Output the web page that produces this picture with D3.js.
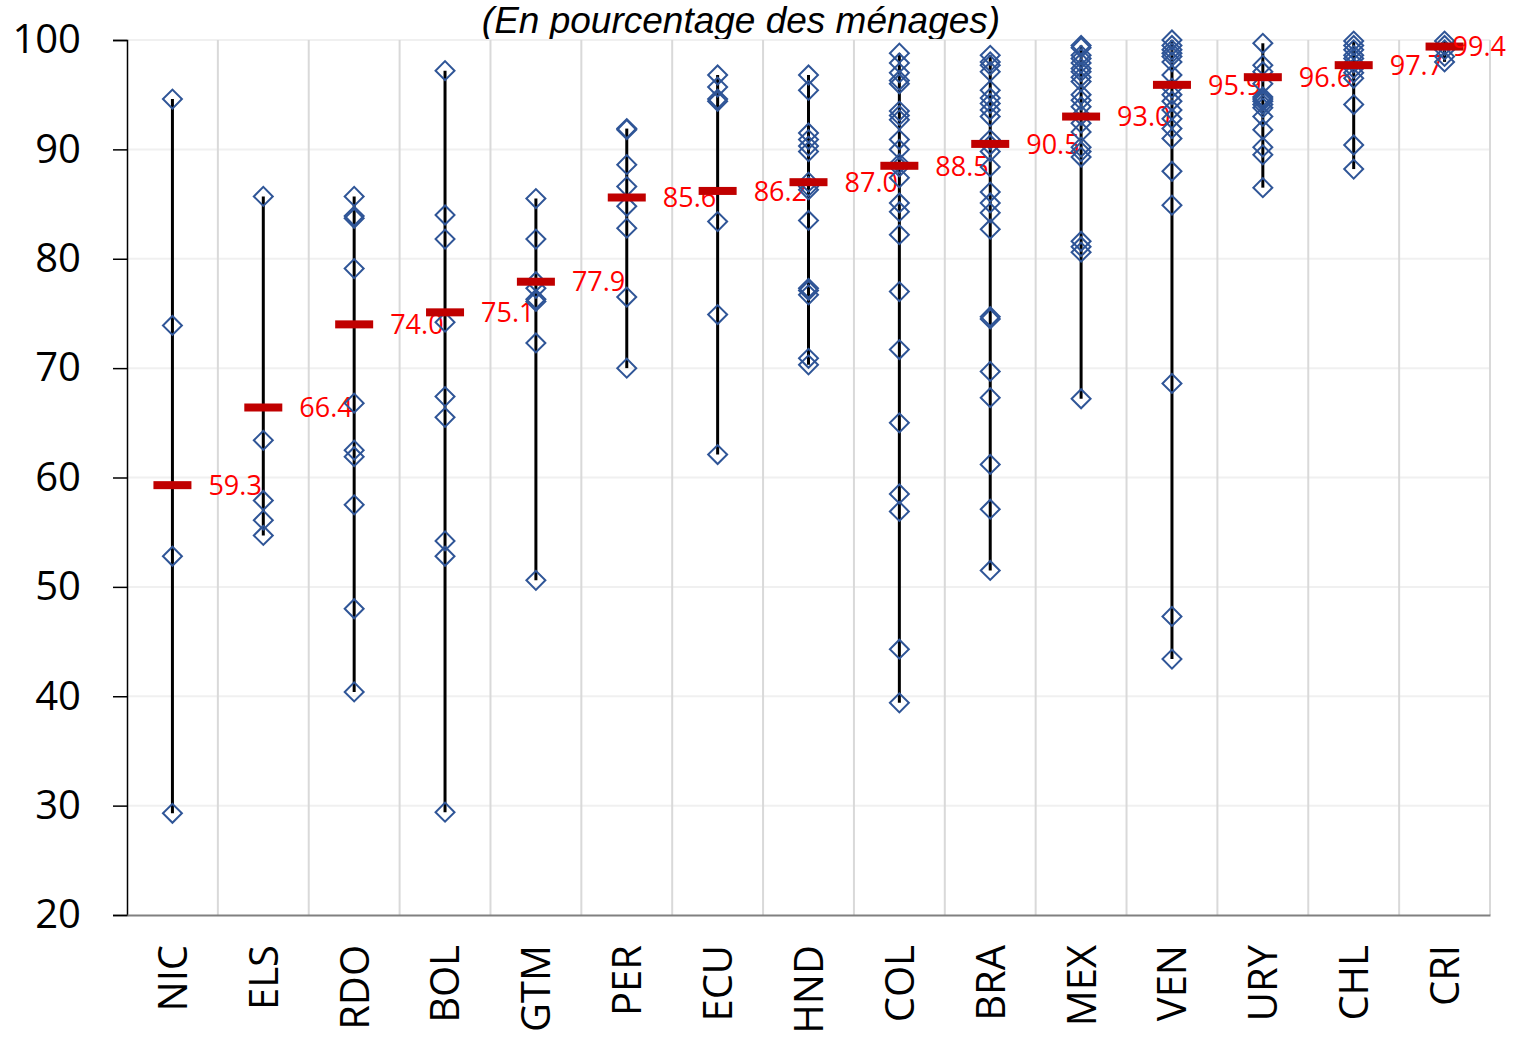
<html>
<head>
<meta charset="UTF-8">
<script src="https://cdn.jsdelivr.net/npm/d3@7"></script>
<style>
  body { margin: 0; background: #fff; }
  .axis text { font-family: "Open Sans", sans-serif; font-size: 40px; fill: #000; }
</style>
</head>
<body>
<div class="chart"></div>
<script>

var countries = ["NIC", "ELS", "RDO", "BOL", "GTM", "PER", "ECU", "HND", "COL", "BRA", "MEX", "VEN", "URY", "CHL", "CRI"];

var nic = [94.6, 73.9, 52.8, 29.3];
var els = [85.7, 63.4, 57.9, 56.1, 54.7];
var rdo = [85.7, 83.9, 83.7, 79.1, 66.8, 62.5, 61.9, 57.5, 48.0, 40.4];
var bol = [97.2, 84.0, 81.8, 74.2, 67.4, 65.5, 54.2, 52.8, 29.4];
var gtm = [85.5, 81.8, 77.9, 77.3, 76.3, 76.1, 72.3, 50.6];
var per = [91.9, 91.8, 88.6, 86.6, 84.8, 82.8, 76.5, 70.0];
var ecu = [96.8, 95.7, 94.6, 94.4, 83.4, 74.9, 62.1];
var hnd = [96.8, 95.4, 91.5, 90.9, 90.3, 89.8, 87.0, 86.6, 86.3, 83.5, 77.3, 77.1, 76.7, 70.9, 70.3];
var col = [98.8, 97.9, 97.0, 96.3, 96.0, 93.5, 93.1, 92.7, 90.9, 90.0, 88.7, 88.4, 87.4, 85.1, 84.3, 82.2, 77.0, 71.7, 65.0, 58.5, 56.9, 44.3, 39.4];
var bra = [98.6, 98.0, 97.7, 97.1, 95.4, 94.7, 94.2, 93.6, 93.0, 90.9, 90.4, 89.8, 88.4, 86.1, 85.1, 84.2, 82.7, 74.7, 74.5, 69.7, 67.3, 61.2, 57.1, 51.5];
var mex = [99.5, 99.3, 98.6, 98.3, 97.9, 97.4, 97.1, 96.6, 96.2, 95.0, 94.5, 93.9, 93.1, 92.4, 91.6, 90.2, 89.8, 89.3, 81.6, 81.1, 80.6, 67.2];
var ven = [100.0, 99.5, 99.1, 98.8, 98.5, 98.0, 96.8, 95.6, 95.0, 94.4, 93.6, 92.8, 91.9, 91.0, 88.0, 84.9, 68.6, 47.3, 43.4];
var ury = [99.7, 97.7, 97.1, 96.0, 94.8, 94.6, 94.4, 94.1, 93.8, 93.0, 91.8, 90.2, 89.5, 86.5];
var chl = [99.9, 99.5, 99.1, 98.6, 98.3, 97.9, 97.4, 97.0, 96.5, 94.1, 90.4, 88.2];
var cri = [99.9, 99.5, 99.1, 98.5, 98.0];

var means = [59.3, 66.4, 74.0, 75.1, 77.9, 85.6, 86.2, 87.0, 88.5, 90.5, 93.0, 95.9, 96.6, 97.7, 99.4];

var yTicks = [20, 30, 40, 50, 60, 70, 80, 90, 100];

var points = [nic, els, rdo, bol, gtm, per, ecu, hnd, col, bra, mex, ven, ury, chl, cri];

var data = countries.map(function(c, i) {
  return { name: c, values: points[i], mean: means[i] };
});

var margin = {top: 40, right: 35, bottom: 125, left: 127},
    width = 1525 - margin.left - margin.right,
    height = 1040 - margin.top - margin.bottom;

var svg = d3.select(".chart").append("svg")
    .attr("width", 1525)
    .attr("height", 1040);

// title sits behind the plot area, its descenders get cut like in the original
svg.append("text")
    .attr("x", 741)
    .attr("y", 33)
    .attr("text-anchor", "middle")
    .style("font-family", "'Liberation Sans', Arial, sans-serif")
    .style("font-style", "italic")
    .style("font-size", "37px")
    .text("(En pourcentage des ménages)");

var g = svg.append("g")
    .attr("transform", "translate(" + margin.left + "," + margin.top + ")");

g.append("rect")
    .attr("x", 0).attr("y", 0)
    .attr("width", width).attr("height", height)
    .attr("fill", "#fff");

var x = d3.scaleBand().domain(countries).range([0, width]);
var y = d3.scaleLinear().domain([20, 100]).range([height, 0]);

// horizontal grid
g.append("g")
    .selectAll("line")
    .data(yTicks.slice(1))
  .enter().append("line")
    .attr("x1", 0).attr("x2", width)
    .attr("y1", function(d) { return y(d); })
    .attr("y2", function(d) { return y(d); })
    .attr("stroke", "#f0f0f0")
    .attr("stroke-width", 2);

// vertical separators between countries
g.append("g")
    .selectAll("line")
    .data(countries)
  .enter().append("line")
    .attr("x1", function(d) { return x(d) + x.bandwidth(); })
    .attr("x2", function(d) { return x(d) + x.bandwidth(); })
    .attr("y1", 0).attr("y2", height)
    .attr("stroke", "#d9d9d9")
    .attr("stroke-width", 2);

// y axis
var yAxis = g.append("g")
    .attr("class", "axis")
    .call(d3.axisLeft(y).tickValues(yTicks).tickSize(14).tickPadding(32));
yAxis.select(".domain").attr("stroke", "#000").attr("stroke-width", 1.5);
yAxis.selectAll(".tick line").attr("stroke", "#000").attr("stroke-width", 1.5);

// x axis
var xAxis = g.append("g")
    .attr("class", "axis")
    .attr("transform", "translate(0," + height + ")")
    .call(d3.axisBottom(x).tickSize(0));
xAxis.select(".domain").attr("stroke", "#808080").attr("stroke-width", 2);
xAxis.selectAll("text")
    .attr("transform", "rotate(-90)")
    .attr("x", -30)
    .attr("y", 0)
    .attr("dy", "0.36em")
    .style("text-anchor", "end");

var groups = g.selectAll(".country")
    .data(data)
  .enter().append("g")
    .attr("class", "country")
    .attr("transform", function(d) { return "translate(" + (x(d.name) + x.bandwidth() / 2) + ",0)"; });

// range line
groups.append("line")
    .attr("x1", 0).attr("x2", 0)
    .attr("y1", function(d) { return y(d3.max(d.values)); })
    .attr("y2", function(d) { return y(d3.min(d.values)); })
    .attr("stroke", "#000")
    .attr("stroke-width", 3);

// diamonds
var diamond = d3.symbol().type(d3.symbolSquare).size(180);
groups.selectAll("path")
    .data(function(d) { return d.values; })
  .enter().append("path")
    .attr("d", diamond)
    .attr("transform", function(v) { return "translate(0," + y(v) + ") rotate(45)"; })
    .attr("fill", "none")
    .attr("stroke", "#2f5597")
    .attr("stroke-width", 2);

// mean marker
groups.append("rect")
    .attr("x", -19)
    .attr("y", function(d) { return y(d.mean) - 4; })
    .attr("width", 38)
    .attr("height", 8)
    .attr("fill", "#c00000");

// mean labels, kept inside the picture at the right edge
groups.append("text")
    .attr("x", 36)
    .attr("y", function(d) { return y(d.mean); })
    .attr("dy", "0.36em")
    .style("font-family", "'Open Sans', sans-serif")
    .style("font-size", "27px")
    .attr("fill", "#ff0000")
    .text(function(d) { return d.mean.toFixed(1); })
    .each(function(d) {
      var cx = margin.left + x(d.name) + x.bandwidth() / 2;
      var w = this.getComputedTextLength();
      var limit = 1506 - cx;
      if (36 + w > limit) d3.select(this).attr("x", limit - w);
    });

</script>
</body>
</html>
